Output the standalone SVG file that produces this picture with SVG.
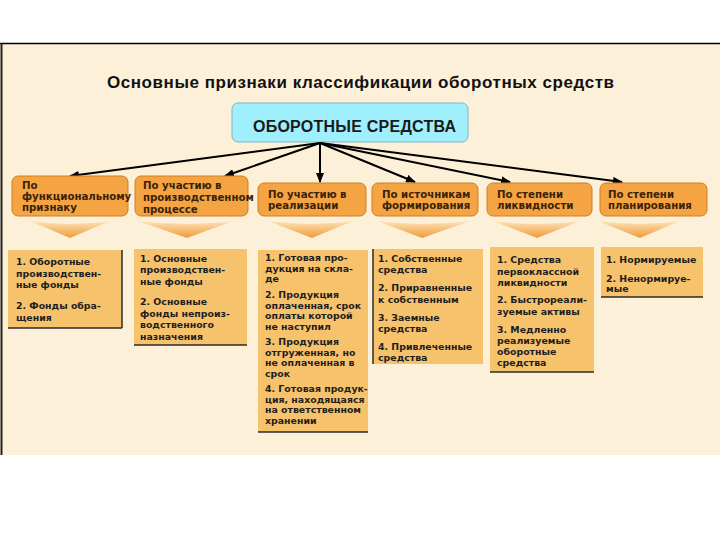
<svg xmlns="http://www.w3.org/2000/svg" width="720" height="540" viewBox="0 0 720 540">
<defs>
<style>
.title{font-family:"Liberation Sans",Arial,sans-serif;font-weight:bold;font-size:17px;fill:#111}
.root text{font-family:"Liberation Sans",Arial,sans-serif;font-weight:bold;font-size:16px;fill:#1a1a1a}
.cat rect{fill:#F5A443;stroke:#CF7F25;stroke-width:1}
.cat text{font-family:"DejaVu Sans",Verdana,sans-serif;font-weight:bold;font-size:10.2px;fill:#3a2208}
.chev{fill:url(#chg)}
.box rect{fill:#F7C26C}
.box text{font-family:"DejaVu Sans",Verdana,sans-serif;font-weight:bold;font-size:9.4px;fill:#1e1e1e}
.edge{stroke:#2b2b2b;stroke-width:1.5}
.conn line{stroke:#000;stroke-width:2;marker-end:url(#ah)}
</style>
<linearGradient id="chg" x1="0" y1="0" x2="0" y2="1">
<stop offset="0" stop-color="#FDE3B8"/>
<stop offset="1" stop-color="#F09A3A"/>
</linearGradient>
<marker id="ah" markerUnits="userSpaceOnUse" markerWidth="10" markerHeight="8" refX="9" refY="4" orient="auto">
<path d="M0,0 L10,4 L0,8 z" fill="#000"/>
</marker>
</defs>

<rect x="0" y="0" width="720" height="540" fill="#fff"/>
<rect x="0" y="43" width="720" height="412" fill="#FDF0D8"/>
<line x1="0" y1="43.5" x2="720" y2="43.5" stroke="#000" stroke-width="1.5"/>
<line x1="1.5" y1="43" x2="1.5" y2="455" stroke="#222" stroke-width="2"/>

<text class="title" x="107" y="88" textLength="507" lengthAdjust="spacing">Основные признаки классификации оборотных средств</text>

<g id="root" class="root">
<rect x="232" y="103" width="236" height="39" rx="6" fill="#9FEFFD" stroke="#7FB4C4" stroke-width="1"/>
<text x="253" y="132" textLength="203" lengthAdjust="spacing">ОБОРОТНЫЕ СРЕДСТВА</text>
</g>

<g id="connectors" class="conn">
<line x1="320" y1="143" x2="70" y2="176"/>
<line x1="320" y1="143" x2="225" y2="176"/>
<line x1="320" y1="143" x2="320" y2="182"/>
<line x1="320" y1="143" x2="415" y2="182"/>
<line x1="320" y1="143" x2="510" y2="182"/>
<line x1="320" y1="143" x2="622" y2="182"/>
</g>

<g id="cat1" class="cat">
<rect x="12" y="176" width="116" height="40" rx="6"/>
<text x="22" y="189">По</text>
<text x="22" y="200">функциональному</text>
<text x="22" y="211">признаку</text>
<path class="chev" d="M30,221 Q70,227 110,221 L70,238 Z"/>
</g>

<g id="cat2" class="cat">
<rect x="135" y="176" width="113" height="40" rx="6"/>
<text x="143" y="189"> По участию в</text>
<text x="143" y="201">производственном</text>
<text x="143" y="213">процессе</text>
<path class="chev" d="M138,221 Q187,227 233,221 L187,238 Z"/>
</g>

<g id="cat3" class="cat">
<rect x="258" y="183" width="108" height="33" rx="6"/>
<text x="268" y="198">По участию в</text>
<text x="268" y="209">реализации</text>
<path class="chev" d="M268,221 Q312,227 353,221 L312,238 Z"/>
</g>

<g id="cat4" class="cat">
<rect x="372" y="183" width="106" height="33" rx="6"/>
<text x="382" y="198">По источникам</text>
<text x="382" y="209">формирования</text>
<path class="chev" d="M377,221 Q422,227 470,221 L422,238 Z"/>
</g>

<g id="cat5" class="cat">
<rect x="487" y="183" width="105" height="33" rx="6"/>
<text x="497" y="198">По степени</text>
<text x="497" y="209">ликвидности</text>
<path class="chev" d="M493,221 Q537,227 580,221 L537,238 Z"/>
</g>

<g id="cat6" class="cat">
<rect x="600" y="183" width="107" height="33" rx="6"/>
<text x="608" y="198">По степени</text>
<text x="608" y="209">планирования</text>
<path class="chev" d="M598,221 Q640,227 680,221 L640,238 Z"/>
</g>

<g id="box1" class="box">
<rect x="8" y="250" width="114" height="78"/>
<line class="edge" x1="122" y1="250" x2="122" y2="328"/>
<line class="edge" x1="8" y1="328" x2="122" y2="328" stroke-width="1"/>
<text x="16" y="265">1. Оборотные</text>
<text x="16" y="277"> производствен-</text>
<text x="16" y="288">ные фонды</text>
<text x="16" y="309">2. Фонды обра-</text>
<text x="16" y="321">щения</text>
</g>

<g id="box2" class="box">
<rect x="134" y="249" width="113" height="96"/>
<line class="edge" x1="134" y1="345" x2="247" y2="345" stroke-width="1"/>
<text x="140" y="262">1. Основные</text>
<text x="140" y="273">производствен-</text>
<text x="140" y="285">ные фонды</text>
<text x="140" y="305">2. Основные</text>
<text x="140" y="317"> фонды непроиз-</text>
<text x="140" y="328">водственного</text>
<text x="140" y="340">назначения</text>
</g>

<g id="box3" class="box">
<rect x="258" y="250" width="110" height="182"/>
<line class="edge" x1="258" y1="432" x2="368" y2="432" stroke-width="1"/>
<text x="265" y="261">1. Готовая про-</text>
<text x="265" y="271.5">дукция на скла-</text>
<text x="265" y="282">де</text>
<text x="265" y="298">2. Продукция</text>
<text x="265" y="308.5">оплаченная, срок</text>
<text x="265" y="319">оплаты которой</text>
<text x="265" y="329.5">не наступил</text>
<text x="265" y="345">3. Продукция</text>
<text x="265" y="355.5">отгруженная, но</text>
<text x="265" y="366">не оплаченная в</text>
<text x="265" y="376.5">срок</text>
<text x="265" y="392">4. Готовая продук-</text>
<text x="265" y="402.5">ция, находящаяся</text>
<text x="265" y="413">на ответственном</text>
<text x="265" y="423.5">хранении</text>
</g>

<g id="box4" class="box">
<rect x="373" y="249" width="110" height="115"/>
<line class="edge" x1="373" y1="249" x2="373" y2="364"/>
<text x="378" y="261.5">1. Собственные</text>
<text x="378" y="273">средства</text>
<text x="378" y="291">2. Приравненные</text>
<text x="378" y="302.5">к собственным</text>
<text x="378" y="321">3. Заемные</text>
<text x="378" y="331.5">средства</text>
<text x="378" y="350">4. Привлеченные</text>
<text x="378" y="361">средства</text>
</g>

<g id="box5" class="box">
<rect x="490" y="247" width="104" height="125"/>
<line class="edge" x1="490" y1="372" x2="594" y2="372"/>
<text x="497" y="263">1. Средства</text>
<text x="497" y="275">первоклассной</text>
<text x="497" y="285.5">ликвидности</text>
<text x="497" y="303">2. Быстрореали-</text>
<text x="497" y="315">зуемые активы</text>
<text x="497" y="333">3. Медленно</text>
<text x="497" y="343.5">реализуемые</text>
<text x="497" y="355">оборотные</text>
<text x="497" y="366">средства</text>
</g>

<g id="box6" class="box">
<rect x="601" y="247" width="102" height="50"/>
<line class="edge" x1="601" y1="297" x2="703" y2="297"/>
<text x="606" y="263">1. Нормируемые</text>
<text x="606" y="282">2. Ненормируе-</text>
<text x="606" y="292">мые</text>
</g>
</svg>
